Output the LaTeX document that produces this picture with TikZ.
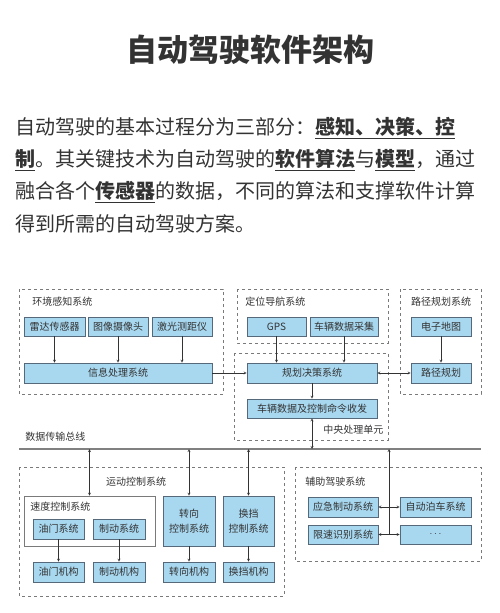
\documentclass[tikz,border=0pt]{standalone}
\usepackage{fontspec}
\setmainfont{Noto Sans CJK SC}
\usepackage{tikz}
\usetikzlibrary{arrows}
\definecolor{boxblue}{HTML}{A8D8F0}
\definecolor{boxline}{HTML}{55697A}
\definecolor{txt}{HTML}{333333}
\definecolor{grpline}{HTML}{7A7A7A}

\begin{document}
\begin{tikzpicture}[x=1pt,y=-1pt,>=stealth,semithick,
  box/.style={draw=boxline,fill=boxblue,inner sep=0pt,text=txt,
    font=\fontsize{10}{15}\selectfont,align=center},
  grp/.style={draw=grpline,dashed,thin},
  lbl/.style={text=txt,inner sep=0pt,font=\fontsize{10}{12}\selectfont},
  para/.style={text=txt,inner sep=0pt,anchor=west,font=\fontsize{20}{24}\selectfont},
  link/.style={->,draw=black!80,thin},
  bus/.style={draw=gray,line width=1.6pt}]
\useasboundingbox (0,0) rectangle (500,613);

% heading and text
\node[text=txt,font=\fontsize{31}{31}\selectfont\bfseries] (title) at (250,50) {自动驾驶软件架构};
\node[para] (l1) at (15,128) {自动驾驶的基本过程分为三部分：\underline{\textbf{感知、决策、控}}};
\node[para] (l2) at (15,160) {\underline{\textbf{制}}。其关键技术为自动驾驶的\underline{\textbf{软件算法}}与\underline{\textbf{模型}}，通过};
\node[para] (l3) at (15,192) {融合各个\underline{\textbf{传感器}}的数据，不同的算法和支撑软件计算};
\node[para] (l4) at (15,224) {得到所需的自动驾驶方案。};

% group frames
\draw[grp] (19,289) rectangle (223,394);
\draw[grp] (237,289) rectangle (388,343);
\draw[grp] (400,289) rectangle (481,394);
\draw[grp] (234,353) rectangle (388,440);
\draw[grp] (19,467) rectangle (284,596);
\draw[grp] (295,467) rectangle (481,561);
\node[lbl,anchor=west] (envlbl) at (32,302) {环境感知系统};
\node[lbl,anchor=west] (navlbl) at (245,302) {定位导航系统};
\node[lbl] (routelbl) at (441,302) {路径规划系统};
\node[lbl,anchor=west] (cpulbl) at (323,430) {中央处理单元};
\node[lbl] (motionlbl) at (136,482) {运动控制系统};
\node[lbl,anchor=west] (auxlbl) at (305,482) {辅助驾驶系统};
\node[lbl,anchor=west] (buslbl) at (25,437) {数据传输总线};

% upper blocks
\node[box,minimum width=61pt,minimum height=19pt] (radar) at (54.5,326.5) {雷达传感器};
\node[box,minimum width=60pt,minimum height=19pt] (camera) at (118,326.5) {图像摄像头};
\node[box,minimum width=60pt,minimum height=19pt] (lidar) at (182,326.5) {激光测距仪};
\node[box,minimum width=188pt,minimum height=20pt] (info) at (118,373) {信息处理系统};
\node[box,minimum width=59pt,minimum height=19pt] (gps) at (276.5,326.5) {GPS};
\node[box,minimum width=68pt,minimum height=19pt] (collect) at (344,326.5) {车辆数据采集};
\node[box,minimum width=130pt,minimum height=20pt] (plan) at (312,373) {规划决策系统};
\node[box,minimum width=130pt,minimum height=19pt] (cmd) at (312,408.5) {车辆数据及控制命令收发};
\node[box,minimum width=60pt,minimum height=19pt] (map) at (441,326.5) {电子地图};
\node[box,minimum width=60pt,minimum height=20pt] (route) at (441,373) {路径规划};

% bus
\coordinate (busL) at (19,449);
\coordinate (busR) at (481,449);
\draw[bus] (busL) -- (busR);

% lower blocks
\node[draw=grpline,fill=white,minimum width=131pt,minimum height=50pt] (speed) at (89.5,521) {};
\node[lbl,anchor=west] (speedlbl) at (30,507) {速度控制系统};
\node[box,minimum width=51pt,minimum height=20pt] (thr) at (58.5,529) {油门系统};
\node[box,minimum width=52pt,minimum height=20pt] (brk) at (119,529) {制动系统};
\node[box,minimum width=51pt,minimum height=20pt] (thrm) at (58.5,572) {油门机构};
\node[box,minimum width=52pt,minimum height=20pt] (brkm) at (119,572) {制动机构};
\node[box,minimum width=52pt,minimum height=50pt] (steer) at (189,521) {转向\\控制系统};
\node[box,minimum width=51pt,minimum height=50pt] (gear) at (248.5,521) {换挡\\控制系统};
\node[box,minimum width=52pt,minimum height=20pt] (steerm) at (189,572) {转向机构};
\node[box,minimum width=51pt,minimum height=20pt] (gearm) at (248.5,572) {换挡机构};
\node[box,minimum width=70pt,minimum height=20pt] (emerg) at (343,507) {应急制动系统};
\node[box,minimum width=70pt,minimum height=19pt] (limit) at (343,534.5) {限速识别系统};
\node[box,minimum width=71pt,minimum height=20pt] (park) at (435.5,507) {自动泊车系统};
\node[box,minimum width=71pt,minimum height=19pt] (more) at (435.5,534.5) {$\cdots$};

% connectors
\draw[link] (radar.south) -- (radar.south |- info.north);
\draw[link] (camera.south) -- (camera.south |- info.north);
\draw[link] (lidar.south) -- (lidar.south |- info.north);
\draw[link] (info.east) -- (plan.west);
\draw[link] (gps.south) -- (gps.south |- plan.north);
\draw[link] (collect.south) -- (collect.south |- plan.north);
\draw[link] (map) -- (route);
\draw[link,<->] (plan.east) -- (route.west);
\draw[link] (plan) -- (cmd);
\draw[link,<->] (cmd.south) -- (cmd.south |- busL);
\draw[link,<->] (speed.north) -- (speed.north |- busL);
\draw[link,<->] (steer.north) -- (steer.north |- busL);
\draw[link,<->] (gear.north) -- (gear.north |- busL);
\draw[link] (thr) -- (thrm);
\draw[link] (brk) -- (brkm);
\draw[link] (steer) -- (steerm);
\draw[link] (gear) -- (gearm);
\draw[link,<->] (emerg) -- (park);
\draw[link,<->] (limit) -- (more);
\coordinate (aux) at (389,534.5);
\draw[link] (aux) -- (aux |- busL);
\end{tikzpicture}
\end{document}
